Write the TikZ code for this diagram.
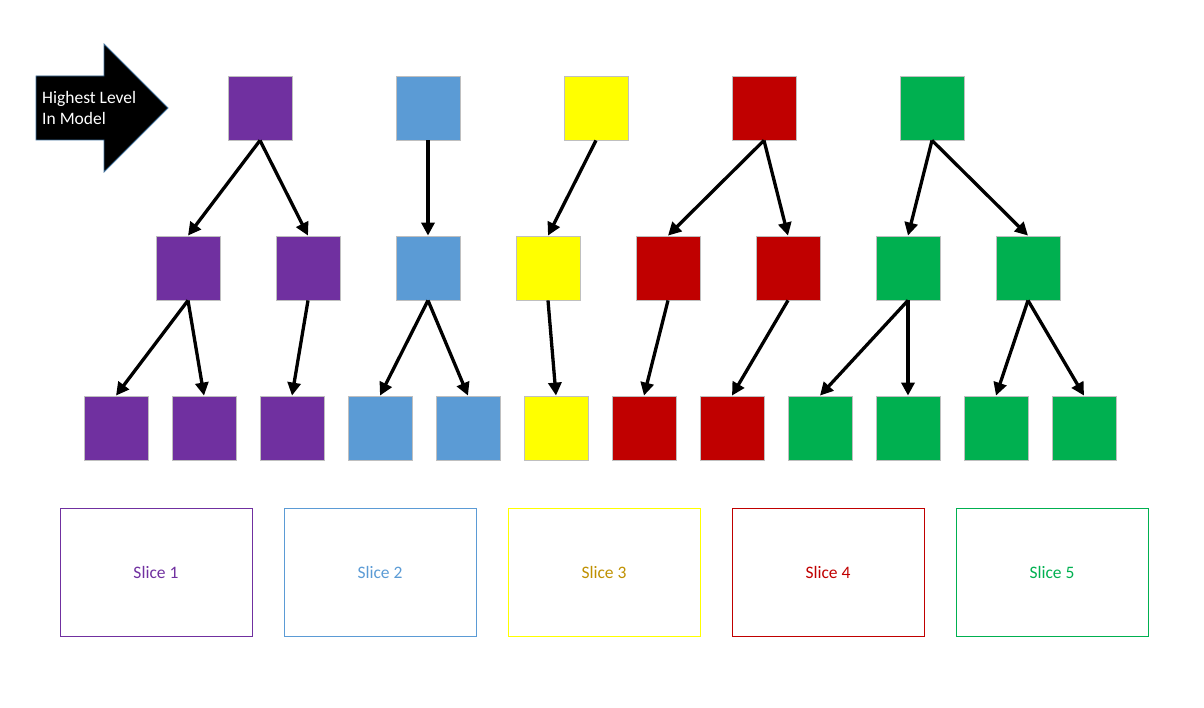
\documentclass[tikz,border=0pt]{standalone}
\usepackage{fontspec}
\setmainfont{Carlito}
\usetikzlibrary{arrows.meta,positioning}
\definecolor{slicepurple}{HTML}{7030A0}
\definecolor{sliceblue}{HTML}{5B9BD5}
\definecolor{sliceyellow}{HTML}{FFFF00}
\definecolor{slicered}{HTML}{C00000}
\definecolor{slicegreen}{HTML}{00B050}
\definecolor{slicegold}{HTML}{BF9000}
\definecolor{arrowrim}{HTML}{41719C}
\tikzset{
  block/.style={draw=black!25,line width=.8pt,minimum size=64pt,inner sep=0pt},
  tree edge/.style={line width=3.3pt,-{Triangle[length=13pt,width=13pt]}},
  slice box/.style={draw=#1,line width=1pt,minimum width=192pt,minimum height=128pt,inner sep=0pt,font=\fontsize{17.5}{20}\selectfont},
}

\begin{document}
\begin{tikzpicture}[x=1pt,y=-1pt,line join=miter]
  \useasboundingbox (0,0) rectangle (1204,708);

  % level arrow
  \draw[draw=arrowrim,line width=.8pt,fill=black]
    (36,76)--(104,76)--(104,44)--(168,108)--(104,172)--(104,140)--(36,140)--cycle;
  \node[anchor=west,align=left,text=white,inner sep=0pt,
        font=\fontsize{17.5}{21}\selectfont] (lvl) at (42,108) {Highest Level\\In Model};

  % top row
  \foreach \n/\x/\c in {t1/260/slicepurple,t2/428/sliceblue,t3/596/sliceyellow,
                        t4/764/slicered,t5/932/slicegreen}
    {\node[block,fill=\c] (\n) at (\x,108) {};}
  % middle row
  \foreach \n/\x/\c in {m1/188/slicepurple,m2/308/slicepurple,m3/428/sliceblue,
                        m4/548/sliceyellow,m5/668/slicered,m6/788/slicered,
                        m7/908/slicegreen,m8/1028/slicegreen}
    {\node[block,fill=\c] (\n) at (\x,268) {};}
  % bottom row
  \foreach \n/\x/\c in {b1/116/slicepurple,b2/204/slicepurple,b3/292/slicepurple,
                        b4/380/sliceblue,b5/468/sliceblue,b6/556/sliceyellow,
                        b7/644/slicered,b8/732/slicered,b9/820/slicegreen,
                        b10/908/slicegreen,b11/996/slicegreen,b12/1084/slicegreen}
    {\node[block,fill=\c] (\n) at (\x,428) {};}

  \draw[tree edge] (t1.south)--(m1.north);
  \draw[tree edge] (t1.south)--(m2.north);
  \draw[tree edge] (t2.south)--(m3.north);
  \draw[tree edge] (t3.south)--(m4.north);
  \draw[tree edge] (t4.south)--(m5.north);
  \draw[tree edge] (t4.south)--(m6.north);
  \draw[tree edge] (t5.south)--(m7.north);
  \draw[tree edge] (t5.south)--(m8.north);
  \draw[tree edge] (m1.south)--(b1.north);
  \draw[tree edge] (m1.south)--(b2.north);
  \draw[tree edge] (m2.south)--(b3.north);
  \draw[tree edge] (m3.south)--(b4.north);
  \draw[tree edge] (m3.south)--(b5.north);
  \draw[tree edge] (m4.south)--(b6.north);
  \draw[tree edge] (m5.south)--(b7.north);
  \draw[tree edge] (m6.south)--(b8.north);
  \draw[tree edge] (m7.south)--(b9.north);
  \draw[tree edge] (m7.south)--(b10.north);
  \draw[tree edge] (m8.south)--(b11.north);
  \draw[tree edge] (m8.south)--(b12.north);

  % slices
  \node[slice box=slicepurple,text=slicepurple] (s1) at (156,572) {Slice 1};
  \node[slice box=sliceblue,text=sliceblue] (s2) at (380,572) {Slice 2};
  \node[slice box=sliceyellow,text=slicegold] (s3) at (604,572) {Slice 3};
  \node[slice box=slicered,text=slicered] (s4) at (828,572) {Slice 4};
  \node[slice box=slicegreen,text=slicegreen] (s5) at (1052,572) {Slice 5};
\end{tikzpicture}
\end{document}
